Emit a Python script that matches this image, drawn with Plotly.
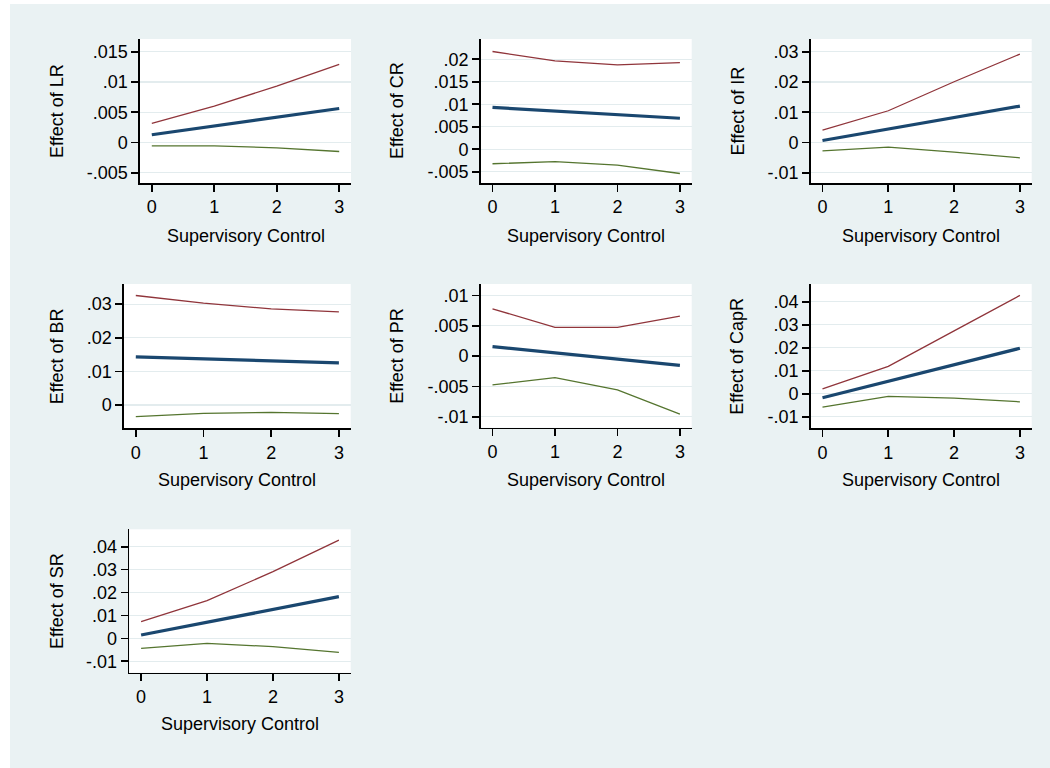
import plotly.graph_objects as go

# ---------------- data ----------------
supervisory_control = [0, 1, 2, 3]

panel_labels = ["LR", "CR", "IR", "BR", "PR", "CapR", "SR"]

lr_upper = [0.00314, 0.00601, 0.00932, 0.0129]
lr_effect = [0.00127, 0.00272, 0.00417, 0.00562]
lr_lower = [-0.00055, -0.00055, -0.00088, -0.00149]

cr_upper = [0.02172, 0.01963, 0.01873, 0.01925]
cr_effect = [0.00929, 0.00849, 0.00769, 0.00689]
cr_lower = [-0.00322, -0.00277, -0.00352, -0.00539]

ir_upper = [0.00408, 0.01048, 0.02007, 0.02923]
ir_effect = [0.00066, 0.0044, 0.0082, 0.01202]
ir_lower = [-0.00276, -0.00154, -0.0032, -0.00507]

br_upper = [0.03258, 0.0303, 0.02861, 0.02771]
br_effect = [0.0143, 0.01371, 0.01311, 0.01252]
br_lower = [-0.00348, -0.00248, -0.00219, -0.00258]

pr_upper = [0.00781, 0.00475, 0.00475, 0.00661]
pr_effect = [0.00158, 0.00054, -0.00049, -0.00153]
pr_lower = [-0.00475, -0.00355, -0.00557, -0.00956]

capr_upper = [0.00218, 0.01193, 0.02735, 0.04276]
capr_effect = [-0.00175, 0.00543, 0.0126, 0.01978]
capr_lower = [-0.00582, -0.00116, -0.00189, -0.00349]

sr_upper = [0.00727, 0.01644, 0.02909, 0.04291]
sr_effect = [0.00145, 0.00703, 0.0126, 0.01818]
sr_lower = [-0.00436, -0.00218, -0.00364, -0.00611]

uppers = [lr_upper, cr_upper, ir_upper, br_upper, pr_upper, capr_upper, sr_upper]
effects = [lr_effect, cr_effect, ir_effect, br_effect, pr_effect, capr_effect, sr_effect]
lowers = [lr_lower, cr_lower, ir_lower, br_lower, pr_lower, capr_lower, sr_lower]

x_tickvals = [0, 1, 2, 3]
x_ticktext = ["0", "1", "2", "3"]

lr_ytick = [-0.005, 0, 0.005, 0.01, 0.015]
lr_ytext = ["-.005", "0", ".005", ".01", ".015"]
cr_ytick = [-0.005, 0, 0.005, 0.01, 0.015, 0.02]
cr_ytext = ["-.005", "0", ".005", ".01", ".015", ".02"]
ir_ytick = [-0.01, 0, 0.01, 0.02, 0.03]
ir_ytext = ["-.01", "0", ".01", ".02", ".03"]
br_ytick = [0, 0.01, 0.02, 0.03]
br_ytext = ["0", ".01", ".02", ".03"]
pr_ytick = [-0.01, -0.005, 0, 0.005, 0.01]
pr_ytext = ["-.01", "-.005", "0", ".005", ".01"]
capr_ytick = [-0.01, 0, 0.01, 0.02, 0.03, 0.04]
capr_ytext = ["-.01", "0", ".01", ".02", ".03", ".04"]
sr_ytick = [-0.01, 0, 0.01, 0.02, 0.03, 0.04]
sr_ytext = ["-.01", "0", ".01", ".02", ".03", ".04"]

ytickvals = [lr_ytick, cr_ytick, ir_ytick, br_ytick, pr_ytick, capr_ytick, sr_ytick]
yticktexts = [lr_ytext, cr_ytext, ir_ytext, br_ytext, pr_ytext, capr_ytext, sr_ytext]

y_ranges = [
    [-0.0067, 0.0171],
    [-0.0075, 0.0245],
    [-0.0134, 0.0342],
    [-0.00694, 0.036],
    [-0.0118, 0.0119],
    [-0.015, 0.0477],
    [-0.015, 0.0476],
]

x_title = "Supervisory Control"

# ---------------- layout (pixel geometry) ----------------
W, H = 1050, 768
# plot areas: left, right, top, bottom in pixels
boxes = [
    (140.0, 351.0, 39.0, 183.0),
    (480.7, 691.7, 39.0, 183.0),
    (810.7, 1031.7, 39.0, 183.0),
    (124.0, 350.7, 284.0, 428.3),
    (480.7, 691.7, 284.0, 427.7),
    (810.7, 1031.7, 284.0, 428.3),
    (129.3, 350.7, 529.3, 672.7),
]
ytitle_x = [57, 397, 737.5, 57, 397, 737.5, 57]
xtitle_y = [236, 236, 236, 480, 480, 480, 724]

BG = "#EAF2F3"
GRID = "#E3ECEE"
RED = "#90353B"
BLUE = "#1A476F"
GREEN = "#55752F"
FONT = "Liberation Sans, Arial, sans-serif"
FS = 18


def px_x(p):
    return p / W


def px_y(p):
    return 1 - p / H


fig = go.Figure()
layout = dict(
    width=W,
    height=H,
    margin=dict(l=0, r=0, t=0, b=0),
    paper_bgcolor=BG,
    plot_bgcolor="white",
    showlegend=False,
    font=dict(family=FONT, size=FS, color="black"),
)
annotations = []
MARGIN_PX = 11.8

for i in range(7):
    n = i + 1
    xa = "x" if n == 1 else f"x{n}"
    ya = "y" if n == 1 else f"y{n}"
    left, right, top, bottom = boxes[i]
    unit = (right - left - 2 * MARGIN_PX) / 3.0
    pad = MARGIN_PX / unit

    for ys, col, wdt in ((uppers[i], RED, 1.3), (lowers[i], GREEN, 1.3), (effects[i], BLUE, 3.2)):
        fig.add_trace(go.Scatter(x=supervisory_control, y=ys, mode="lines",
                                 line=dict(color=col, width=wdt), xaxis=xa, yaxis=ya,
                                 hoverinfo="skip"))

    axis_common = dict(showline=True, linecolor="black", linewidth=1.6,
                       ticks="outside", ticklen=7, tickwidth=1.6, tickcolor="black",
                       zeroline=False, tickfont=dict(family=FONT, size=FS, color="black"))
    layout["xaxis" if n == 1 else f"xaxis{n}"] = dict(
        domain=[px_x(left), px_x(right)], anchor=ya, range=[-pad, 3 + pad],
        tickmode="array", tickvals=x_tickvals, ticktext=x_ticktext, showgrid=False,
        **axis_common)
    layout["yaxis" if n == 1 else f"yaxis{n}"] = dict(
        domain=[px_y(bottom), px_y(top)], anchor=xa, range=y_ranges[i],
        tickmode="array", tickvals=ytickvals[i], ticktext=yticktexts[i],
        showgrid=True, gridcolor=GRID, gridwidth=1.2, **axis_common)

    annotations.append(dict(text=f"Effect of {panel_labels[i]}", xref="paper", yref="paper",
                            x=px_x(ytitle_x[i]), y=px_y((top + bottom) / 2), textangle=-90,
                            showarrow=False, xanchor="center", yanchor="middle",
                            font=dict(family=FONT, size=FS, color="black")))
    annotations.append(dict(text=x_title, xref="paper", yref="paper",
                            x=px_x((left + right) / 2), y=px_y(xtitle_y[i]),
                            showarrow=False, xanchor="center", yanchor="middle",
                            font=dict(family=FONT, size=FS, color="black")))

layout["annotations"] = annotations
layout["shapes"] = [
    dict(type="rect", xref="paper", yref="paper", x0=0, x1=px_x(10), y0=0, y1=1,
         fillcolor="white", line=dict(width=0), layer="above"),
    dict(type="rect", xref="paper", yref="paper", x0=0, x1=1, y0=px_y(4), y1=1,
         fillcolor="white", line=dict(width=0), layer="above"),
]
fig.update_layout(**layout)
fig.write_html("out.html",
               config={"displayModeBar": False, "staticPlot": True},
               post_script="document.body.style.margin='0';document.body.style.overflow='hidden';")
